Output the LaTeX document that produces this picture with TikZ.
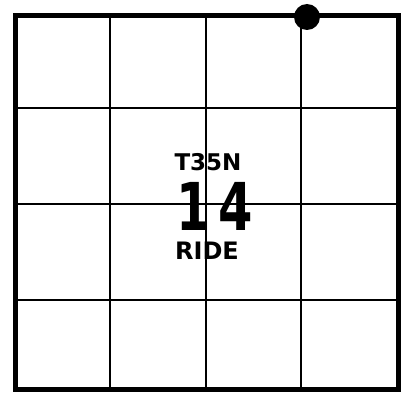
\documentclass[tikz,border=0pt]{standalone}
\usepackage{fontspec}
\newfontfamily\mapfont{DejaVu Sans}
\usepackage{tikz}

\begin{document}
\begin{tikzpicture}[x=1pt, y=1pt, every node/.style={font=\mapfont\bfseries, inner sep=0pt, text depth=0pt}]
	\useasboundingbox (0,0) rectangle (408,392);
	\coordinate (sw) at (15.5,2.5); \coordinate (ne) at (398,376);
	\foreach \x in {110,206,301} {\draw[line width=2.3pt] (\x,2.5) -- (\x,376);}
	\foreach \y in {92,188,284} {\draw[line width=2.3pt] (15.5,\y) -- (398,\y);}
	\draw[line width=5pt] (sw) rectangle (ne);
	\fill (307,375) circle (13);
	\node[text height=17pt, anchor=south] (twp) at (208,221) {\fontsize{23}{23}\selectfont T35N};
	\node[text height=48pt, anchor=south, xscale=0.75] (sec) at (215,161) {\fontsize{66}{66}\selectfont 1\kern10pt4};
	\node[text height=18pt, anchor=south] (rng) at (207,132) {\fontsize{24}{24}\selectfont RIDE};
\end{tikzpicture}
\end{document}
